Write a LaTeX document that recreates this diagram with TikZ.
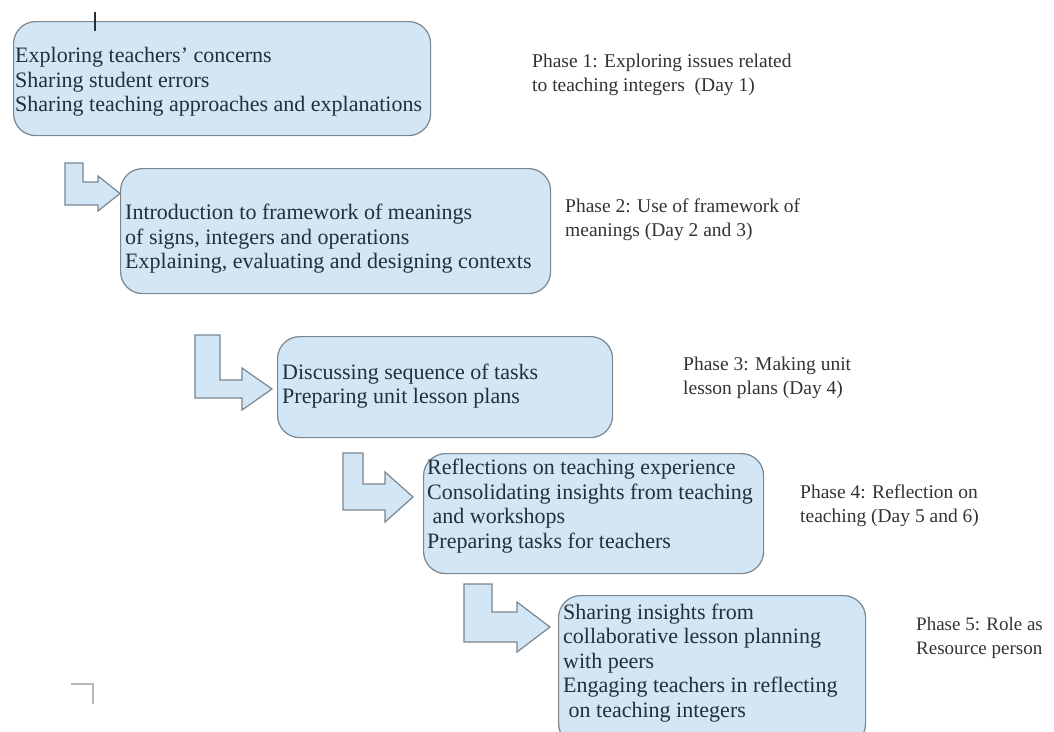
\documentclass[tikz,border=0pt]{standalone}
\usepackage{fontspec}
\setmainfont{Liberation Serif}
\usepackage{xcolor}
\usetikzlibrary{positioning}
\definecolor{boxfill}{HTML}{D2E6F5}
\definecolor{boxline}{HTML}{7A8690}
\definecolor{ink}{HTML}{22303A}
\definecolor{phaseink}{HTML}{333333}
\definecolor{faint}{HTML}{B8B8B8}
\tikzset{
  stepbox/.style={draw=boxline, fill=boxfill, line width=1.2pt, rounded corners=22pt, anchor=north west, inner sep=0pt},
  boxtext/.style={text=ink, align=left, anchor=west, inner sep=0pt, font=\fontsize{22}{24.5}\selectfont},
  phasetext/.style={text=phaseink, align=left, anchor=west, inner sep=0pt, font=\fontsize{19.5}{24}\selectfont},
  steparr/.style={draw=boxline, fill=boxfill, line width=1.2pt, line join=miter}
}

\begin{document}
\begin{tikzpicture}[x=1pt, y=-1pt]
  \clip (0,0) rectangle (1054,731);

  % Boxes
  \node[stepbox, minimum width=417pt, minimum height=114pt] (b1) at (13,21) {};
  \node[stepbox, minimum width=430pt, minimum height=125pt] (b2) at (120,168) {};
  \node[stepbox, minimum width=335pt, minimum height=101pt] (b3) at (277,336) {};
  \node[stepbox, minimum width=340pt, minimum height=120pt] (b4) at (423,453) {};
  \node[stepbox, minimum width=307pt, minimum height=150pt] (b5) at (558,595) {};

  % Step arrows
  \draw[steparr] (65,163) -- (83,163) -- (83,182) -- (98,182) -- (98,176) -- (120,193.5)
    -- (98,211) -- (98,205) -- (65,205) -- cycle;
  \draw[steparr] (195,335) -- (220,335) -- (220,380) -- (242,380) -- (242,368) -- (272,389)
    -- (242,410) -- (242,398) -- (195,398) -- cycle;
  \draw[steparr] (343,453) -- (363,453) -- (363,484) -- (385,484) -- (385,472) -- (413,497)
    -- (385,522) -- (385,510) -- (343,510) -- cycle;
  \draw[steparr] (464,584) -- (492,584) -- (492,612) -- (517,612) -- (517,602) -- (550,627)
    -- (517,652) -- (517,642) -- (464,642) -- cycle;

  % Box texts
  \node[boxtext] (t1) at (15,82) {Exploring teachers' concerns\\Sharing student errors\\Sharing teaching approaches and explanations};
  \node[boxtext] (t2) at (125,239) {Introduction to framework of meanings\\of signs, integers and operations\\Explaining, evaluating and designing contexts};
  \node[boxtext] (t3) at (282,386) {Discussing sequence of tasks\\Preparing unit lesson plans};
  \node[boxtext] (t4) at (427,506) {Reflections on teaching experience\\Consolidating insights from teaching\\\hspace*{0.25em}and workshops\\Preparing tasks for teachers};
  \node[boxtext] (t5) at (563,663) {Sharing insights from\\collaborative lesson planning\\with peers\\Engaging teachers in reflecting\\\hspace*{0.25em}on teaching integers};

  % Phase labels
  \node[phasetext] (p1) at (532,75) {Phase 1: Exploring issues related\\to teaching integers\ \ (Day 1)};
  \node[phasetext] (p2) at (565,220) {Phase 2: Use of framework of\\meanings (Day 2 and 3)};
  \node[phasetext] (p3) at (683,378) {Phase 3: Making unit\\lesson plans (Day 4)};
  \node[phasetext] (p4) at (800,506) {Phase 4: Reflection on\\teaching (Day 5 and 6)};
  \node[phasetext, font=\fontsize{19}{24}\selectfont] (p5) at (916,638) {Phase 5: Role as\\Resource person};

  % Stray marks
  \draw[ink, line width=1.5pt] (95,12) -- (95,31);
  \draw[faint, line width=1.2pt] (71,684) -- (93,684) -- (93,704);
\end{tikzpicture}
\end{document}
